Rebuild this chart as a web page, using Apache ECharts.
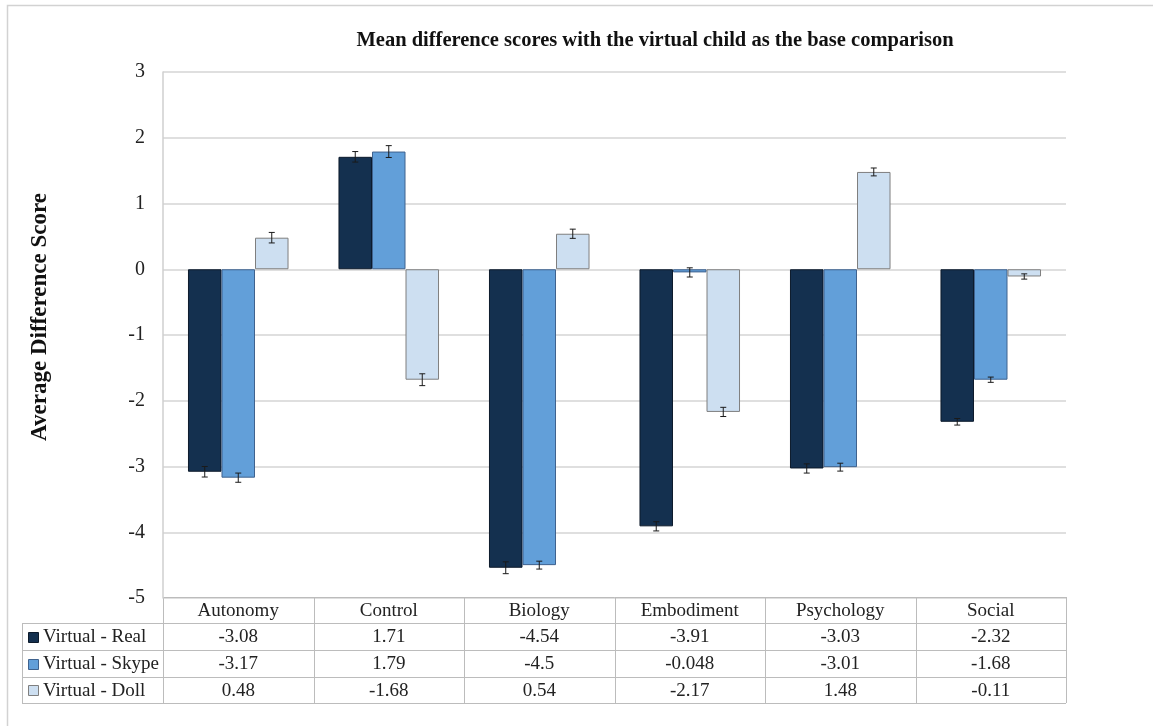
<!DOCTYPE html>
<html>
<head>
<meta charset="utf-8">
<script src="https://cdn.jsdelivr.net/npm/echarts@6/dist/echarts.min.js"></script>
<style>
  html, body { margin: 0; padding: 0; background: #fff; }
  #chart { width: 1153px; height: 726px; }
</style>
</head>
<body>
<div id="chart"></div>
<script>
// Categories and mean difference scores (virtual child as base)
const categories = ['Autonomy', 'Control', 'Biology', 'Embodiment', 'Psychology', 'Social'];
const seriesNames = ['Virtual - Real', 'Virtual - Skype', 'Virtual - Doll'];
const realValues = [-3.08, 1.71, -4.54, -3.91, -3.03, -2.32];
const skypeValues = [-3.17, 1.79, -4.5, -0.048, -3.01, -1.68];
const dollValues = [0.48, -1.68, 0.54, -2.17, 1.48, -0.11];
// Standard error half-widths
const realErrors = [0.08, 0.08, 0.09, 0.07, 0.07, 0.05];
const skypeErrors = [0.07, 0.09, 0.06, 0.07, 0.06, 0.04];
const dollErrors = [0.08, 0.09, 0.07, 0.07, 0.06, 0.04];
const yTicks = [-5, -4, -3, -2, -1, 0, 1, 2, 3];

const FONT = '"Liberation Serif", "Times New Roman", serif';
const colors = ['#14304f', '#629fd9', '#cddff1'];
const borders = ['#0c1a2b', '#3f628e', '#7f7f7f'];
const valueSets = [realValues, skypeValues, dollValues];
const errorSets = [realErrors, skypeErrors, dollErrors];

const GRID = { left: 163, top: 72, width: 903, height: 526 };
const CAT_GAP = 0.332;

const chart = echarts.init(document.getElementById('chart'));

function errorSeries(idx) {
  return {
    type: 'custom',
    name: seriesNames[idx] + ' error',
    silent: true,
    z: 5,
    data: valueSets[idx].map((v, i) => [i, v, errorSets[idx][i]]),
    renderItem: function (params, api) {
      const i = api.value(0);
      const v = api.value(1);
      const e = api.value(2);
      const band = api.size([1, 0])[0];
      const bw = band * (1 - CAT_GAP) / 3;
      const center = api.coord([i, 0])[0] + (idx - 1) * bw;
      const hi = api.coord([i, v + e])[1];
      const lo = api.coord([i, v - e])[1];
      const cap = 3;
      const style = { stroke: '#1a1a1a', lineWidth: 1 };
      return {
        type: 'group',
        children: [
          { type: 'line', shape: { x1: center, y1: hi, x2: center, y2: lo }, style: style },
          { type: 'line', shape: { x1: center - cap, y1: hi, x2: center + cap, y2: hi }, style: style },
          { type: 'line', shape: { x1: center - cap, y1: lo, x2: center + cap, y2: lo }, style: style }
        ]
      };
    }
  };
}

const barSeries = valueSets.map((vals, idx) => ({
  type: 'bar',
  name: seriesNames[idx],
  data: vals,
  barGap: '0%',
  barCategoryGap: (CAT_GAP * 100) + '%',
  itemStyle: { color: colors[idx], borderColor: borders[idx], borderWidth: 1 },
  z: 3
}));

chart.setOption({
  animation: false,
  backgroundColor: '#ffffff',
  textStyle: { fontFamily: FONT },
  grid: GRID,
  xAxis: {
    type: 'category',
    data: categories,
    axisLine: { show: false },
    axisTick: { show: false },
    axisLabel: { show: false },
    splitLine: { show: false }
  },
  yAxis: {
    type: 'value',
    min: yTicks[0],
    max: yTicks[yTicks.length - 1],
    interval: 1,
    axisLine: { show: true, lineStyle: { color: '#cfcfcf', width: 1.5 } },
    axisTick: { show: false },
    axisLabel: { fontFamily: FONT, fontSize: 20, color: '#222', margin: 18 },
    splitLine: { lineStyle: { color: '#d4d4d4', width: 1.5 } }
  },
  series: barSeries.concat([errorSeries(0), errorSeries(1), errorSeries(2)])
});

// Data table beneath the plot, plus title and axis name
function buildGraphics() {
  const band = GRID.width / categories.length;
  const x0 = GRID.left;
  const xEnd = GRID.left + GRID.width;
  const yTop = GRID.top + GRID.height - 1;
  const rowYs = [yTop, 623, 650, 677, 703];
  const tableLeft = 22;
  const lineStyle = { stroke: '#bcbcbc', lineWidth: 1 };
  const els = [];

  // outer frame
  els.push({ type: 'rect', shape: { x: 7.5, y: 5.5, width: 1160, height: 740 },
    style: { fill: null, stroke: '#d2d2d2', lineWidth: 1.5 }, silent: true });

  // title
  els.push({ type: 'text', x: 655, y: 41,
    style: { text: 'Mean difference scores with the virtual child as the base comparison',
      font: 'bold 20.5px ' + FONT, fill: '#111', align: 'center', verticalAlign: 'middle' } });

  // y-axis name
  els.push({ type: 'text', x: 40, y: 317, rotation: Math.PI / 2,
    style: { text: 'Average Difference Score', font: 'bold 23px ' + FONT, fill: '#111',
      align: 'center', verticalAlign: 'middle' } });

  // horizontal table lines
  rowYs.forEach((y, k) => {
    const xs = k === 0 ? x0 : tableLeft;
    els.push({ type: 'line', shape: { x1: xs, y1: y + 0.5, x2: xEnd, y2: y + 0.5 }, style: lineStyle });
  });
  // vertical table lines
  els.push({ type: 'line', shape: { x1: tableLeft + 0.5, y1: rowYs[1], x2: tableLeft + 0.5, y2: rowYs[4] }, style: lineStyle });
  for (let k = 0; k <= categories.length; k++) {
    const x = Math.round(x0 + band * k) + 0.5;
    els.push({ type: 'line', shape: { x1: x, y1: yTop, x2: x, y2: rowYs[4] }, style: lineStyle });
  }

  // header row: category names
  categories.forEach((c, i) => {
    const cx = chart.convertToPixel({ xAxisIndex: 0 }, i);
    els.push({ type: 'text', x: cx, y: (rowYs[0] + rowYs[1]) / 2 + 1,
      style: { text: c, font: '19px ' + FONT, fill: '#222', align: 'center', verticalAlign: 'middle' } });
  });

  // value rows with legend keys
  valueSets.forEach((vals, r) => {
    const cy = (rowYs[r + 1] + rowYs[r + 2]) / 2 + 1;
    els.push({ type: 'rect', shape: { x: 28.5, y: Math.round(cy - 6) + 0.5, width: 10, height: 10 },
      style: { fill: colors[r], stroke: borders[r], lineWidth: 1 } });
    els.push({ type: 'text', x: 43, y: cy,
      style: { text: seriesNames[r], font: '19px ' + FONT, fill: '#222', align: 'left', verticalAlign: 'middle' } });
    vals.forEach((v, i) => {
      const cx = chart.convertToPixel({ xAxisIndex: 0 }, i);
      els.push({ type: 'text', x: cx, y: cy,
        style: { text: String(v), font: '19px ' + FONT, fill: '#222', align: 'center', verticalAlign: 'middle' } });
    });
  });

  chart.setOption({ graphic: { elements: els } });
}
buildGraphics();
</script>
</body>
</html>
